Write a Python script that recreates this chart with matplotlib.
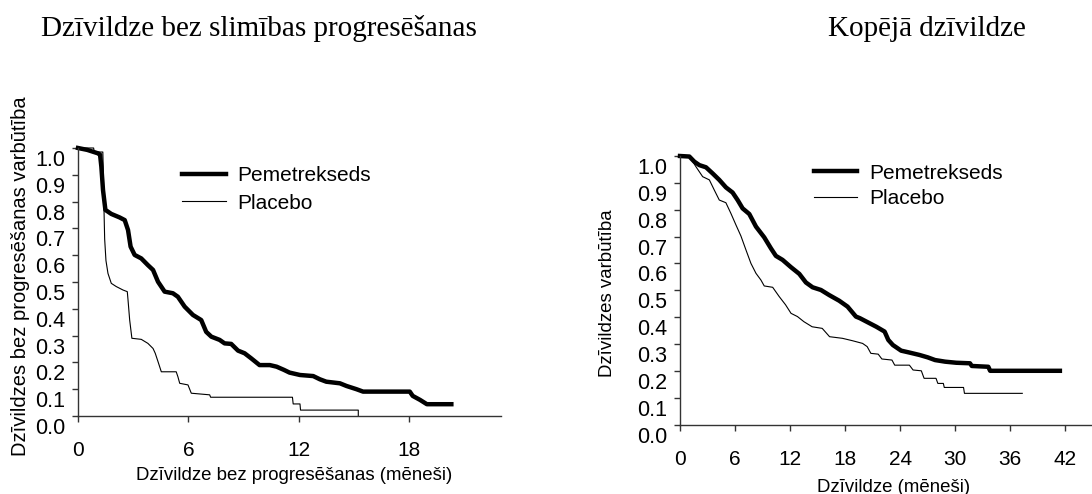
import matplotlib
matplotlib.use("Agg")
import matplotlib.pyplot as plt
import matplotlib.transforms as mtransforms

# Dzīvildze bez progresēšanas (mēneši) / varbūtība
pfs_pem_t = [0, 0.5, 1.09, 1.2, 1.27, 1.36, 1.49, 1.81, 2.26, 2.54,
             2.72, 2.86, 3.08, 3.44, 3.80, 4.08, 4.35, 4.71, 5.16, 5.43,
             5.80, 6.25, 6.70, 6.97, 7.25, 7.70, 7.97, 8.33, 8.70, 9.06,
             9.42, 9.87, 10.43, 10.8, 11.2, 11.5, 12.07, 12.79, 13.15, 13.5,
             14.24, 14.6, 15.14, 15.5, 18.04, 18.2, 18.6, 18.97, 20.3]
pfs_pem_s = [1.0, 0.993, 0.98, 0.975, 0.93, 0.843, 0.769, 0.754, 0.741, 0.731,
             0.694, 0.632, 0.601, 0.588, 0.563, 0.545, 0.501, 0.464, 0.458, 0.445,
             0.408, 0.377, 0.358, 0.314, 0.296, 0.284, 0.271, 0.269, 0.244, 0.234,
             0.215, 0.190, 0.190, 0.184, 0.172, 0.162, 0.153, 0.149, 0.137, 0.128,
             0.122, 0.112, 0.100, 0.091, 0.091, 0.075, 0.06, 0.044, 0.044]

pfs_pla_t = [0, 0.85, 0.88, 1.35, 1.38, 1.41, 1.45, 1.52, 1.63, 1.81,
             2.08, 2.45, 2.68, 2.72, 2.81, 2.93, 3.44, 3.80, 4.08, 4.20,
             4.35, 4.53, 5.34, 5.43, 5.53, 5.98, 6.16, 7.16, 7.21, 11.66,
             11.7, 12.07, 12.1, 15.24, 15.24]
pfs_pla_s = [1.0, 1.0, 0.985, 0.985, 0.9, 0.78, 0.66, 0.58, 0.532, 0.495,
             0.483, 0.470, 0.464, 0.433, 0.358, 0.290, 0.286, 0.271, 0.252, 0.234,
             0.203, 0.165, 0.165, 0.147, 0.122, 0.116, 0.085, 0.079, 0.070, 0.070,
             0.045, 0.045, 0.022, 0.022, 0.0]

# Kopējā dzīvildze
os_pem_t = [0, 1.02, 1.56, 2.11, 2.83, 3.56, 4.28, 5.01, 5.73, 6.28,
            6.82, 7.55, 8.28, 9.18, 9.91, 10.45, 11.18, 12.09, 13.0, 13.72,
            14.45, 15.36, 16.26, 17.35, 18.26, 19.17, 19.6, 20.33, 21.4, 22.3,
            22.7, 23.2, 24.1, 25.0, 26.1, 27.0, 27.8, 28.9, 30.1, 31.6,
            31.8, 33.6, 33.8, 41.4]
os_pem_s = [1.0, 0.998, 0.979, 0.966, 0.958, 0.935, 0.911, 0.883, 0.864, 0.836,
            0.805, 0.784, 0.737, 0.697, 0.656, 0.628, 0.613, 0.586, 0.561, 0.529,
            0.511, 0.501, 0.482, 0.461, 0.439, 0.402, 0.396, 0.383, 0.364, 0.346,
            0.315, 0.296, 0.275, 0.268, 0.259, 0.250, 0.240, 0.234, 0.230, 0.228,
            0.218, 0.215, 0.200, 0.200]

os_pla_t = [0, 1.0, 1.74, 2.47, 3.2, 3.74, 4.28, 5.0, 5.55, 6.1,
            6.64, 7.19, 7.73, 8.28, 8.82, 9.18, 10.1, 10.8, 11.5, 12.1,
            12.8, 13.5, 14.4, 15.5, 16.3, 17.7, 18.8, 19.9, 20.4, 20.8,
            21.6, 22.0, 23.1, 23.4, 25.0, 25.4, 26.3, 26.6, 27.9, 28.1,
            28.7, 28.8, 30.9, 31.0, 37.3]
os_pla_s = [1.0, 1.0, 0.960, 0.923, 0.911, 0.873, 0.836, 0.826, 0.786, 0.743,
            0.702, 0.650, 0.600, 0.563, 0.538, 0.516, 0.511, 0.477, 0.446, 0.414,
            0.402, 0.383, 0.364, 0.358, 0.327, 0.321, 0.312, 0.302, 0.290, 0.265,
            0.262, 0.244, 0.240, 0.221, 0.221, 0.203, 0.200, 0.172, 0.172, 0.153,
            0.153, 0.138, 0.138, 0.116, 0.116]

y_ticks = [i / 10 for i in range(11)]
pfs_xticks = [0, 6, 12, 18]
os_xticks = [0, 6, 12, 18, 24, 30, 36, 42]

plt.rcParams["font.family"] = ["Liberation Sans", "DejaVu Sans"]

W, H = 1092, 494
fig = plt.figure(figsize=(W / 100, H / 100), dpi=100)

ax1 = fig.add_axes([78 / W, 1 - 416 / H, 423 / W, 268 / H])
ax2 = fig.add_axes([680 / W, 1 - 424.5 / H, 412 / W, 268.5 / H])


def style_axes(ax, xticks, xmax):
    ax.set_xlim(0, xmax)
    ax.set_ylim(0, 1.0)
    ax.set_yticks(y_ticks)
    ax.set_yticklabels([f"{v:.1f}" for v in y_ticks])
    ax.set_xticks(xticks)
    ax.set_xticklabels([str(v) for v in xticks])
    for s in ["top", "right"]:
        ax.spines[s].set_visible(False)
    for s in ["left", "bottom"]:
        ax.spines[s].set_linewidth(1.0)
        ax.spines[s].set_color("#333333")
    ax.tick_params(axis="y", direction="out", length=4, width=1, color="#333333",
                   labelsize=15.5, pad=5)
    ax.tick_params(axis="x", direction="out", length=4, width=1, color="#333333",
                   labelsize=15, pad=14)
    # y tick labels sit a bit lower than the ticks in the original
    off = mtransforms.ScaledTranslation(0, -10 / 100, fig.dpi_scale_trans)
    for lab in ax.get_yticklabels():
        lab.set_transform(lab.get_transform() + off)


style_axes(ax1, pfs_xticks, 23.0)
style_axes(ax2, os_xticks, 44.9)

ax1.plot(pfs_pem_t, pfs_pem_s, color="black", lw=3.2, label="Pemetrekseds",
         clip_on=False, solid_joinstyle="round")
ax1.plot(pfs_pla_t, pfs_pla_s, color="black", lw=0.8, label="Placebo", clip_on=False)
ax2.plot(os_pem_t, os_pem_s, color="black", lw=3.2, label="Pemetrekseds",
         clip_on=False, solid_joinstyle="round")
ax2.plot(os_pla_t, os_pla_s, color="black", lw=0.8, label="Placebo", clip_on=False)

ax1.legend(loc="upper left", bbox_to_anchor=(0.245, 0.932), frameon=False,
           fontsize=15, handlelength=2.15, handletextpad=0.5, labelspacing=0.4,
           borderpad=0, borderaxespad=0)
ax2.legend(loc="upper left", bbox_to_anchor=(0.325, 0.972), frameon=False,
           fontsize=15, handlelength=2.05, handletextpad=0.6, labelspacing=0.33,
           borderpad=0, borderaxespad=0)

fig.text(259 / W, 1 - 29 / H, "Dzīvildze bez slimības progresēšanas",
         family="Liberation Serif", fontsize=21, ha="center", va="center")
fig.text(927 / W, 1 - 29 / H, "Kopējā dzīvildze",
         family="Liberation Serif", fontsize=21, ha="center", va="center")

fig.text(20.5 / W, 1 - 276 / H, "Dzīvildzes bez progresēšanas varbūtība",
         rotation=90, fontsize=14.5, ha="center", va="center")
fig.text(294 / W, 1 - 475 / H, "Dzīvildze bez progresēšanas (mēneši)",
         fontsize=13.4, ha="center", va="center")
fig.text(608 / W, 1 - 293 / H, "Dzīvildzes varbūtība",
         rotation=90, fontsize=13.4, ha="center", va="center")
fig.text(894 / W, 1 - 487 / H, "Dzīvildze (mēneši)",
         fontsize=13.4, ha="center", va="center")

fig.savefig("out.png", dpi=100)
